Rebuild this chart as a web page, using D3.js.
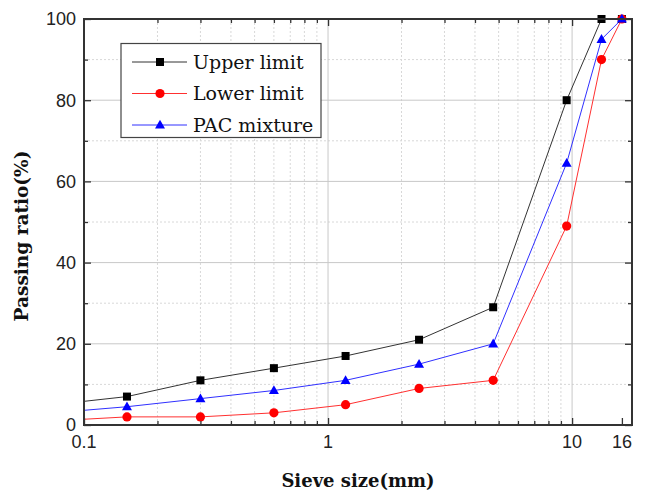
<!DOCTYPE html>
<html>
<head>
<meta charset="utf-8">
<script src="https://cdn.jsdelivr.net/npm/d3@7"></script>
<style>
  html, body { margin: 0; padding: 0; background: #fff; }
  svg { display: block; }
</style>
</head>
<body>
<script>
// ---- data ----
const sieveSizes = [0.075, 0.15, 0.3, 0.6, 1.18, 2.36, 4.75, 9.5, 13.2, 16];
const upperLimit = [5, 7, 11, 14, 17, 21, 29, 80, 100, 100];
const lowerLimit = [1, 2, 2, 3, 5, 9, 11, 49, 90, 100];
const pacMixture = [3, 4.5, 6.5, 8.5, 11, 15, 20, 64.5, 95, 100];
const seriesNames = ["Upper limit", "Lower limit", "PAC mixture"];
const xTickValues = [0.1, 1, 10, 16];
const xTickLabels = ["0.1", "1", "10", "16"];
const yTickValues = [0, 20, 40, 60, 80, 100];

(function () {
const W = 646, H = 502;
const margin = { left: 84, right: 14, top: 19, bottom: 77 };
const x0 = margin.left, x1 = W - margin.right, y0 = margin.top, y1 = H - margin.bottom;

const svg = d3.select("body").append("svg").attr("width", W).attr("height", H);

const x = d3.scaleLog().domain([0.1, 17.6]).range([x0, x1]);
const y = d3.scaleLinear().domain([0, 100]).range([y1, y0]);

const minorX = [];
[0.1, 1, 10].forEach(d => { for (let k = 2; k <= 9; k++) { const v = d * k; if (v < 17.6) minorX.push(v); } });
const minorY = [10, 30, 50, 70, 90];

// grid
const grid = svg.append("g");
grid.selectAll(".mx").data(minorX).join("line")
  .attr("x1", d => x(d)).attr("x2", d => x(d)).attr("y1", y0).attr("y2", y1)
  .attr("stroke", "#d8d8d8").attr("stroke-width", 1).attr("stroke-dasharray", "2,2");
grid.selectAll(".my").data(minorY).join("line")
  .attr("x1", x0).attr("x2", x1).attr("y1", d => y(d)).attr("y2", d => y(d))
  .attr("stroke", "#d8d8d8").attr("stroke-width", 1).attr("stroke-dasharray", "2,2");
grid.selectAll(".Mx").data([1, 10]).join("line")
  .attr("x1", d => x(d)).attr("x2", d => x(d)).attr("y1", y0).attr("y2", y1)
  .attr("stroke", "#c8c8c8").attr("stroke-width", 1);
grid.selectAll(".My").data([20, 40, 60, 80]).join("line")
  .attr("x1", x0).attr("x2", x1).attr("y1", d => y(d)).attr("y2", d => y(d))
  .attr("stroke", "#c8c8c8").attr("stroke-width", 1);

svg.append("clipPath").attr("id", "clip").append("rect")
  .attr("x", x0).attr("y", y0 - 6).attr("width", x1 - x0 + 6).attr("height", y1 - y0 + 6);

const series = [
  { name: seriesNames[0], values: upperLimit, color: "#000000", line: "#333333", shape: "square" },
  { name: seriesNames[1], values: lowerLimit, color: "#ff0000", line: "#ff3030", shape: "circle" },
  { name: seriesNames[2], values: pacMixture, color: "#0000ff", line: "#3030ff", shape: "triangle" }
];

function marker(g, shape, color) {
  if (shape === "square") {
    g.append("rect").attr("x", -4).attr("y", -4).attr("width", 8).attr("height", 8).attr("fill", color);
  } else if (shape === "circle") {
    g.append("circle").attr("r", 4.6).attr("fill", color);
  } else {
    g.append("path").attr("d", "M0,-5.2L5,3.6L-5,3.6Z").attr("fill", color);
  }
}

const plot = svg.append("g").attr("clip-path", "url(#clip)");
const lineGen = d3.line().x(d => x(d[0])).y(d => y(d[1]));
series.forEach(s => {
  const pts = sieveSizes.map((v, i) => [v, s.values[i]]);
  plot.append("path").datum(pts).attr("d", lineGen)
    .attr("fill", "none").attr("stroke", s.line).attr("stroke-width", 1);
});
series.forEach(s => {
  sieveSizes.forEach((v, i) => {
    if (v < 0.1) return;
    const g = plot.append("g").attr("transform", `translate(${x(v)},${y(s.values[i])})`);
    marker(g, s.shape, s.color);
  });
});

const axisColor = "#333";
const axBottom = svg.append("g").attr("transform", `translate(0,${y1})`)
  .call(d3.axisTop(x).tickValues(xTickValues).tickFormat("").tickSizeInner(7).tickSizeOuter(0));
const axBottomMinor = svg.append("g").attr("transform", `translate(0,${y1})`)
  .call(d3.axisTop(x).tickValues(minorX).tickFormat("").tickSizeInner(4).tickSizeOuter(0));
const axTop = svg.append("g").attr("transform", `translate(0,${y0})`)
  .call(d3.axisBottom(x).tickValues([1, 10]).tickFormat("").tickSizeInner(7).tickSizeOuter(0));
const axTopMinor = svg.append("g").attr("transform", `translate(0,${y0})`)
  .call(d3.axisBottom(x).tickValues(minorX).tickFormat("").tickSizeInner(4).tickSizeOuter(0));
const axLeft = svg.append("g").attr("transform", `translate(${x0},0)`)
  .call(d3.axisRight(y).tickValues(yTickValues).tickFormat("").tickSizeInner(7).tickSizeOuter(0));
const axLeftMinor = svg.append("g").attr("transform", `translate(${x0},0)`)
  .call(d3.axisRight(y).tickValues(minorY).tickFormat("").tickSizeInner(4).tickSizeOuter(0));
const axRight = svg.append("g").attr("transform", `translate(${x1},0)`)
  .call(d3.axisLeft(y).tickValues(yTickValues).tickFormat("").tickSizeInner(7).tickSizeOuter(0));
const axRightMinor = svg.append("g").attr("transform", `translate(${x1},0)`)
  .call(d3.axisLeft(y).tickValues(minorY).tickFormat("").tickSizeInner(4).tickSizeOuter(0));
[axBottom, axBottomMinor, axTop, axTopMinor, axLeft, axLeftMinor, axRight, axRightMinor].forEach(a => {
  a.select(".domain").remove();
  a.selectAll("line").attr("stroke", axisColor).attr("stroke-width", 1.3);
});

svg.append("rect").attr("x", x0).attr("y", y0).attr("width", x1 - x0).attr("height", y1 - y0)
  .attr("fill", "none").attr("stroke", axisColor).attr("stroke-width", 2);

const tickFont = "'Liberation Sans', Arial, sans-serif";
svg.append("g").selectAll("text").data(xTickValues).join("text")
  .attr("x", d => x(d)).attr("y", y1 + 23)
  .attr("text-anchor", "middle").attr("font-family", tickFont).attr("font-size", 18).attr("fill", "#222")
  .text((d, i) => xTickLabels[i]);
svg.append("g").selectAll("text").data(yTickValues).join("text")
  .attr("x", x0 - 8).attr("y", d => y(d)).attr("dy", "0.36em")
  .attr("text-anchor", "end").attr("font-family", tickFont).attr("font-size", 18).attr("fill", "#222")
  .text(d => d);

const serif = "'DejaVu Serif', 'Liberation Serif', serif";
svg.append("text").attr("x", (x0 + x1) / 2).attr("y", 487)
  .attr("text-anchor", "middle").attr("font-family", serif).attr("font-weight", "bold")
  .attr("font-size", 18).attr("fill", "#111").text("Sieve size(mm)");
svg.append("text").attr("transform", `translate(28,236) rotate(-90)`)
  .attr("text-anchor", "middle").attr("font-family", serif).attr("font-weight", "bold")
  .attr("font-size", 18.5).attr("fill", "#111").text("Passing ratio(%)");

const lg = svg.append("g");
lg.append("rect").attr("x", 121).attr("y", 43.5).attr("width", 200).attr("height", 94)
  .attr("fill", "#fff").attr("stroke", "#444").attr("stroke-width", 1.2);
series.forEach((s, i) => {
  const cy = 62 + i * 31.5;
  lg.append("line").attr("x1", 132).attr("x2", 187).attr("y1", cy).attr("y2", cy)
    .attr("stroke", s.line).attr("stroke-width", 1);
  const g = lg.append("g").attr("transform", `translate(160,${cy})`);
  marker(g, s.shape, s.color);
  lg.append("text").attr("x", 193).attr("y", cy).attr("dy", "0.35em")
    .attr("font-family", serif).attr("font-size", 19).attr("fill", "#111").text(s.name);
});
})();
</script>
</body>
</html>
